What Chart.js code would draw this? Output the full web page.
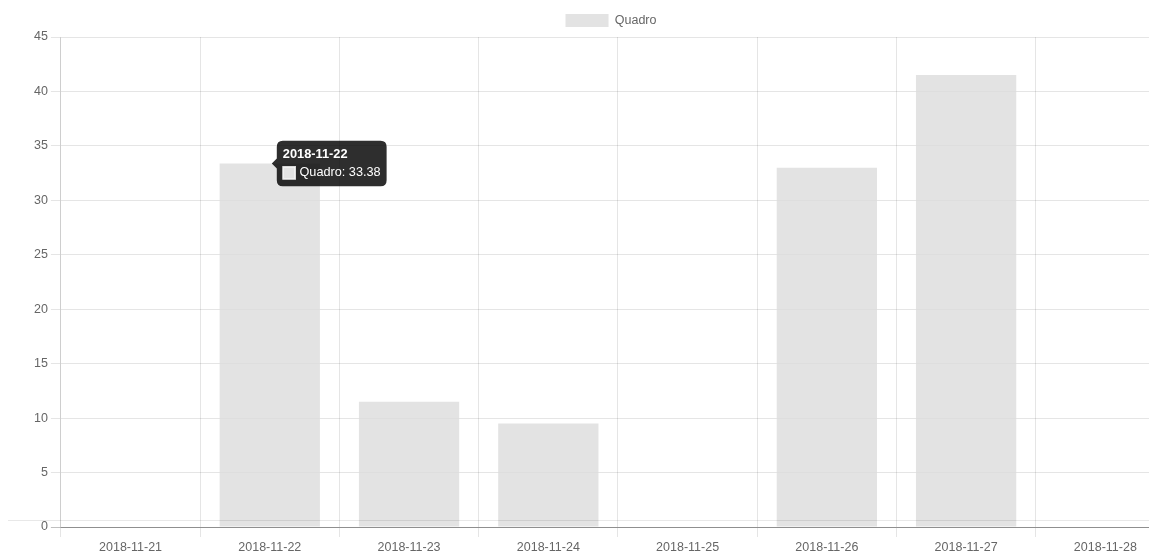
<!DOCTYPE html>
<html>
<head>
<meta charset="utf-8">
<style>
html,body{margin:0;padding:0;overflow:hidden;background:#fff;width:1149px;height:554px}
#wrap{position:absolute;left:0;top:0;width:1220px;height:554px}
#rule{position:absolute;left:8px;top:520px;width:1141px;height:1px;background:rgba(0,0,0,0.09);pointer-events:none}
</style>
<script src="https://cdn.jsdelivr.net/npm/chart.js@4/dist/chart.umd.min.js"></script>
</head>
<body>
<div id="wrap"><canvas id="c"></canvas></div>
<div id="rule"></div>
<script>
const categories = ['2018-11-21','2018-11-22','2018-11-23','2018-11-24','2018-11-25','2018-11-26','2018-11-27','2018-11-28'];
const seriesName = 'Quadro';
const seriesValues = [0, 33.38, 11.5, 9.5, 0, 33, 41.5, 0];
const yMin = 0, yMax = 45, yStep = 5;
const activeIndex = 1;

const FONT = "'Liberation Sans', Arial, Helvetica, sans-serif";
Chart.defaults.font.family = FONT;
Chart.defaults.font.size = 12.5;
Chart.defaults.color = '#666';

const legendShift = {
  id: 'legendShift',
  afterLayout(chart) {
    const lg = chart.legend;
    if (lg) { lg.left += 8; lg.right += 8; }
  }
};

const barFill = 'rgba(220,220,220,0.8)';
const chart = new Chart(document.getElementById('c'), {
  type: 'bar',
  data: {
    labels: categories,
    datasets: [{
      label: seriesName,
      data: seriesValues,
      backgroundColor: barFill,
      hoverBackgroundColor: barFill,
      borderColor: 'rgba(220,220,220,1)',
      borderWidth: 0,
      categoryPercentage: 0.8,
      barPercentage: 0.9
    }]
  },
  plugins: [legendShift],
  options: {
    responsive: true,
    maintainAspectRatio: false,
    animation: false,
    events: [],
    layout: { padding: { left: 31, right: 45, top: 4, bottom: -4 } },
    plugins: {
      legend: {
        position: 'top',
        labels: { boxWidth: 43, boxHeight: 13, padding: 10, color: '#666', font: { size: 12.5 } }
      },
      tooltip: {
        enabled: true,
        backgroundColor: 'rgba(0,0,0,0.82)',
        titleFont: { weight: 'bold', size: 12.8, lineHeight: 1.15 },
        bodyFont: { size: 12.7, lineHeight: 1.15 },
        titleColor: '#fff',
        bodyColor: '#fff',
        padding: 6,
        caretSize: 5,
        caretPadding: 2,
        cornerRadius: 6,
        titleMarginBottom: 4,
        boxPadding: 2,
        displayColors: true,
        callbacks: {
          label: (ctx) => ctx.dataset.label + ': ' + ctx.parsed.y
        }
      }
    },
    scales: {
      x: {
        offset: true,
        grid: { offset: true, color: 'rgba(0,0,0,0.1)', tickLength: 10 },
        border: { color: 'rgba(0,0,0,0.25)' },
        ticks: { padding: 3, maxRotation: 0, autoSkip: false }
      },
      y: {
        min: yMin,
        max: yMax,
        ticks: { stepSize: yStep, padding: 3 },
        grid: {
          tickLength: 10,
          color: (ctx) => (ctx.tick && ctx.tick.value === 0) ? 'rgba(0,0,0,0.25)' : 'rgba(0,0,0,0.1)'
        },
        border: { color: 'rgba(0,0,0,0.1)' }
      }
    }
  }
});
chart.setActiveElements([{ datasetIndex: 0, index: activeIndex }]);
chart.tooltip.setActiveElements([{ datasetIndex: 0, index: activeIndex }], { x: 0, y: 0 });
chart.update('none');
</script>
</body>
</html>
